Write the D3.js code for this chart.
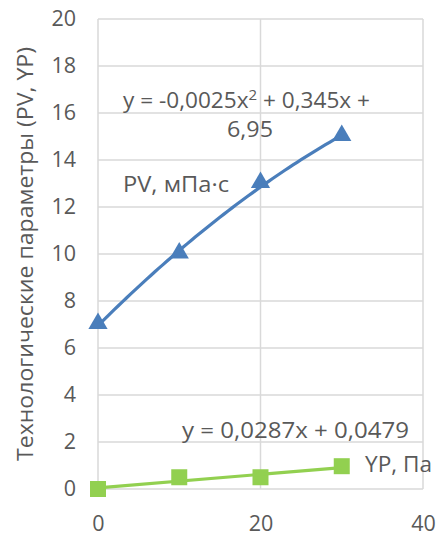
<!DOCTYPE html>
<html>
<head>
<meta charset="utf-8">
<script src="https://cdn.jsdelivr.net/npm/d3@7"></script>
<style>
  html, body { margin: 0; padding: 0; background: #fff; }
  svg { display: block; }
  text { font-family: "Open Sans", "Noto Sans", sans-serif; fill: #595959; }
</style>
</head>
<body>
<svg id="chart" width="441" height="537"></svg>
<script>
// Measured data points
const xValues = [0, 10, 20, 30];
const pvValues = [7, 10, 13, 15];
const ypValues = [0, 0.5, 0.5, 0.97];

// Trendline coefficients (highest power first)
const pvTrend = [-0.0025, 0.345, 6.95];
const ypTrend = [0.0287, 0.0479];

// Axis ticks
const xTicks = [0, 20, 40];
const yTicks = [0, 2, 4, 6, 8, 10, 12, 14, 16, 18, 20];

const seriesNames = ["PV, мПа·с", "YP, Па"];
const yTitle = "Технологические параметры (PV, YP)";

const svg = d3.select("#chart");
const x = d3.scaleLinear().domain([0, 40]).range([98, 423]);
const y = d3.scaleLinear().domain([0, 20]).range([489, 19]);

const blue = "#4a7ebb";
const green = "#92d050";
const grid = "#d9d9d9";
const labelSize = "21px";

// Gridlines
svg.append("g").selectAll("line.h").data(yTicks).join("line")
  .attr("x1", x(0)).attr("x2", x(40))
  .attr("y1", d => y(d)).attr("y2", d => y(d))
  .attr("stroke", grid).attr("stroke-width", 1.5);
svg.append("g").selectAll("line.v").data(xTicks).join("line")
  .attr("x1", d => x(d)).attr("x2", d => x(d))
  .attr("y1", y(0)).attr("y2", y(20))
  .attr("stroke", grid).attr("stroke-width", 1.5);

// Axes (labels only)
const yAxis = svg.append("g").attr("transform", `translate(${x(0)},0)`)
  .call(d3.axisLeft(y).tickValues(yTicks).tickSize(0).tickPadding(22).tickFormat(d3.format("d")));
yAxis.select(".domain").remove();
yAxis.selectAll("text").style("font-size", "21.5px").attr("fill", "#595959")
  .attr("font-family", "Open Sans");

const xAxis = svg.append("g").attr("transform", `translate(0,${y(0)})`)
  .call(d3.axisBottom(x).tickValues(xTicks).tickSize(0).tickPadding(27).tickFormat(d3.format("d")));
xAxis.select(".domain").remove();
xAxis.selectAll("text").style("font-size", "21.5px").attr("fill", "#595959")
  .attr("font-family", "Open Sans");

// Y axis title
svg.append("text")
  .attr("transform", `translate(33,254) rotate(-90)`)
  .attr("text-anchor", "middle")
  .style("font-size", labelSize)
  .attr("textLength", 414).attr("lengthAdjust", "spacingAndGlyphs")
  .text(yTitle);

// Markers
const tri = d3.symbol().type(d3.symbolTriangle).size(160);
svg.append("g").selectAll("path").data(xValues).join("path")
  .attr("d", tri)
  .attr("transform", (d, i) => `translate(${x(d)},${y(pvValues[i]) - 1})`)
  .attr("fill", blue);

svg.append("g").selectAll("rect").data(xValues).join("rect")
  .attr("x", d => x(d) - 8).attr("width", 16)
  .attr("y", (d, i) => y(ypValues[i]) - 8).attr("height", 16)
  .attr("fill", green);

// Trendlines
const poly = (c, v) => c.reduce((acc, k) => acc * v + k, 0);
const xs = d3.range(0, 30.001, 0.5);
const line = d3.line().x(d => x(d[0])).y(d => y(d[1]));

svg.append("path")
  .datum(xs.map(v => [v, poly(pvTrend, v)]))
  .attr("d", line).attr("fill", "none")
  .attr("stroke", blue).attr("stroke-width", 3.2);

svg.append("path")
  .datum([0, 30].map(v => [v, poly(ypTrend, v)]))
  .attr("d", line).attr("fill", "none")
  .attr("stroke", green).attr("stroke-width", 3.2);

// Equation labels
function label(xPos, yPos, width, str) {
  return svg.append("text").attr("x", xPos).attr("y", yPos)
    .style("font-size", labelSize)
    .attr("textLength", width).attr("lengthAdjust", "spacingAndGlyphs")
    .text(str);
}

const eq1 = svg.append("text").attr("x", 123).attr("y", 108)
  .style("font-size", labelSize)
  .attr("textLength", 247).attr("lengthAdjust", "spacingAndGlyphs");
eq1.append("tspan").text("y = -0,0025x");
eq1.append("tspan").attr("dy", -8).style("font-size", "14px").text("2");
eq1.append("tspan").attr("dy", 8).text(" + 0,345x +");

label(227, 137, 46, "6,95");
label(182, 438, 227, "y = 0,0287x + 0,0479");

// Series labels
label(123, 192, 106, seriesNames[0]);
label(365, 472, 67, seriesNames[1]);
</script>
</body>
</html>
